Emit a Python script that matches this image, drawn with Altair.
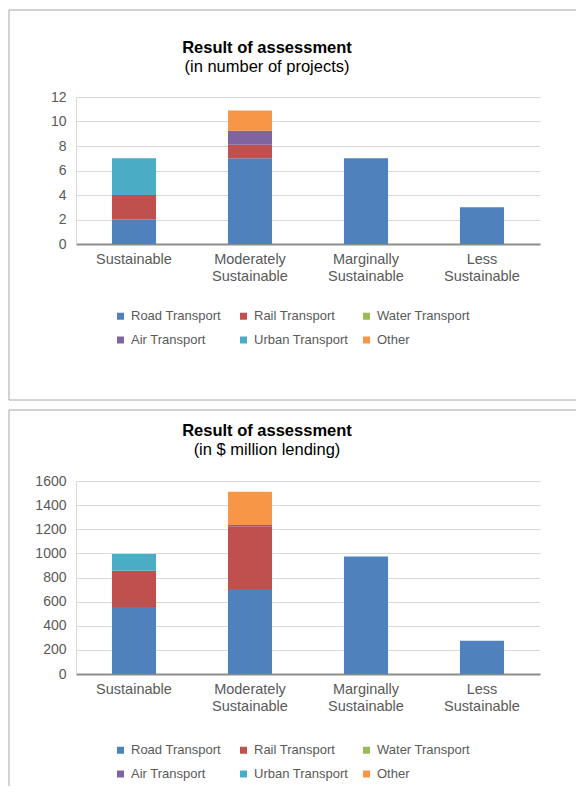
import altair as alt
import pandas as pd

categories = ["Sustainable", "Moderately Sustainable", "Marginally Sustainable", "Less Sustainable"]
series = ["Road Transport", "Rail Transport", "Water Transport", "Air Transport", "Urban Transport", "Other"]
colors = ["#4F81BD", "#C0504D", "#9BBB59", "#8064A2", "#4BACC6", "#F79646"]

# Result of assessment (in number of projects)
road_projects = [2, 7, 7, 3]
rail_projects = [2, 1.1, 0, 0]
water_projects = [0, 0, 0, 0]
air_projects = [0, 1.15, 0, 0]
urban_projects = [3, 0, 0, 0]
other_projects = [0, 1.65, 0, 0]
ticks_projects = [0, 2, 4, 6, 8, 10, 12]

# Result of assessment (in $ million lending)
road_lending = [555, 705, 975, 275]
rail_lending = [300, 520, 0, 0]
water_lending = [0, 0, 0, 0]
air_lending = [0, 10, 0, 0]
urban_lending = [140, 0, 0, 0]
other_lending = [0, 275, 0, 0]
ticks_lending = [0, 200, 400, 600, 800, 1000, 1200, 1400, 1600]

FONT = "Liberation Sans"
GRAY = "#595959"
BORDER = "#A6A6A6"


def long_table(cols):
    rows = []
    for si, (name, vals) in enumerate(zip(series, cols)):
        for cat, v in zip(categories, vals):
            rows.append({"category": cat, "series": name, "value": v, "order": si})
    return pd.DataFrame(rows)


def panel(df, title, subtitle, ticks, plot_h, box_top, box_bottom, draw_bottom, title_y, sub_y, legend_y):
    bars = alt.Chart(df).mark_bar().encode(
        x=alt.X(
            "category:N",
            sort=categories,
            scale=alt.Scale(paddingInner=0.62, paddingOuter=0.31),
            axis=alt.Axis(
                title=None,
                labelExpr="split(datum.value, ' ')",
                labelAngle=0,
                labelFontSize=14.5,
                labelColor=GRAY,
                labelPadding=8,
                labelLineHeight=17,
                ticks=False,
                domainColor="#8C8C8C",
                domainWidth=2,
            ),
        ),
        y=alt.Y(
            "value:Q",
            stack="zero",
            scale=alt.Scale(domain=[ticks[0], ticks[-1]], nice=False),
            axis=alt.Axis(
                title=None,
                values=ticks,
                format="d",
                grid=True,
                gridColor="#D9D9D9",
                domainColor="#D9D9D9",
                ticks=False,
                labelFontSize=14,
                labelColor=GRAY,
                labelPadding=10,
            ),
        ),
        color=alt.Color(
            "series:N",
            scale=alt.Scale(domain=series, range=colors),
            legend=alt.Legend(
                title=None,
                orient="none",
                legendX=38,
                legendY=legend_y,
                direction="horizontal",
                columns=3,
                symbolType="square",
                symbolSize=49,
                symbolStrokeWidth=0,
                labelFontSize=13,
                labelColor=GRAY,
                labelOffset=4,
                columnPadding=11,
                rowPadding=10,
                gridAlign="all",
                padding=0,
            ),
        ),
        order=alt.Order("order:Q"),
    )

    base = alt.Chart(pd.DataFrame({"t": [title], "s": [subtitle]}))
    rule = base.mark_rule(stroke=BORDER, strokeWidth=1)
    layers = [
        rule.encode(x=alt.value(-67), x2=alt.value(500), y=alt.value(box_top)),
        rule.encode(x=alt.value(-67), y=alt.value(box_top), y2=alt.value(box_bottom)),
    ]
    if draw_bottom:
        layers.append(rule.encode(x=alt.value(-67), x2=alt.value(500), y=alt.value(box_bottom)))
    t1 = base.mark_text(fontSize=16.5, fontWeight="bold", align="center", baseline="alphabetic", color="black").encode(
        text="t:N", x=alt.value(191), y=alt.value(title_y)
    )
    t2 = base.mark_text(fontSize=16.5, align="center", baseline="alphabetic", color="black").encode(
        text="s:N", x=alt.value(191), y=alt.value(sub_y)
    )
    return alt.layer(*layers, bars, t1, t2).properties(width=464, height=plot_h)


top = panel(
    long_table([road_projects, rail_projects, water_projects, air_projects, urban_projects, other_projects]),
    "Result of assessment", "(in number of projects)", ticks_projects,
    147, -87, 303, True, -44, -25, 212.5,
)
bottom = panel(
    long_table([road_lending, rail_lending, water_lending, air_lending, urban_lending, other_lending]),
    "Result of assessment", "(in $ million lending)", ticks_lending,
    193, -71, 305, False, -45, -26, 262.5,
)

chart = (
    alt.vconcat(top, bottom, spacing=8)
    .resolve_scale(color="independent")
    .resolve_legend(color="independent")
    .properties(padding={"left": 0, "top": 1, "right": 0, "bottom": 0})
    .configure(font=FONT)
    .configure_view(stroke=None)
)

chart.save("out.html", embed_options={"renderer": "svg", "actions": False})
